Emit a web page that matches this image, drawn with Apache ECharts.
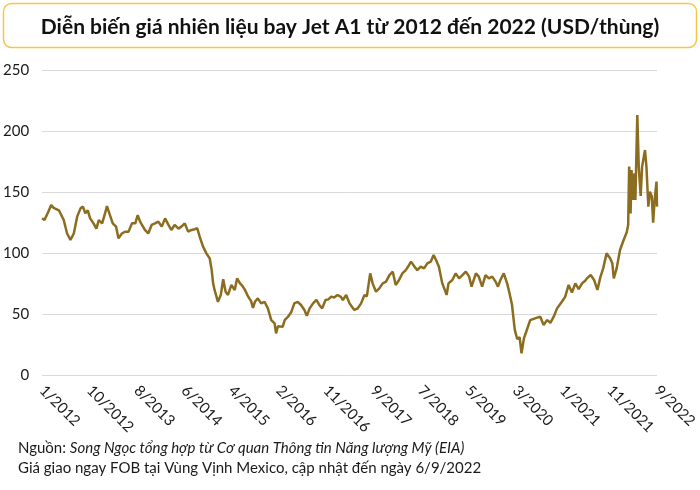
<!DOCTYPE html>
<html>
<head>
<meta charset="utf-8">
<script src="https://cdn.jsdelivr.net/npm/echarts@6/dist/echarts.min.js"></script>
<style>
html,body{margin:0;padding:0;background:#fff;}
#chart{width:700px;height:490px;}
</style>
</head>
<body>
<div id="chart"></div>
<script>
// Months elapsed since 1/2012 (x) and Jet A1 spot price, USD/barrel (y)
var months = [
0,0.5,1.2,1.9,2.4,2.8,3.5,3.9,4.5,5.2,5.9,6.6,7.3,8.0,8.5,9.0,9.5,10.0,10.7,11.3,11.8,
12.5,13.1,13.5,14.0,14.7,15.4,15.9,16.6,17.3,18.0,18.7,19.4,19.9,20.4,21.0,21.4,22.1,22.8,23.5,
24.2,24.9,25.6,26.3,26.9,27.6,28.4,29.0,29.7,30.4,31.1,31.8,32.3,32.8,33.5,34.2,34.9,35.3,35.6,35.9,
36.3,36.6,36.9,37.2,37.7,38.2,38.7,39.1,39.4,39.8,40.1,40.6,41.2,41.7,42.2,42.9,43.5,43.9,44.3,44.9,
45.6,46.3,47.0,47.7,48.1,48.4,48.7,49.1,49.4,50.1,50.5,51.2,51.9,52.5,53.2,53.9,54.6,55.1,55.7,56.4,
57.1,57.7,58.3,59.0,59.6,60.2,60.8,61.5,62.2,62.6,63.3,64.0,64.5,65.0,65.7,66.0,66.4,67.1,67.6,68.0,
68.3,68.8,69.5,70.2,70.9,71.6,72.3,73.0,73.6,74.3,75.0,75.7,76.4,76.8,77.5,78.1,78.8,79.5,80.2,80.9,
81.5,82.0,82.6,83.3,84.0,84.2,84.6,85.4,86.1,86.8,87.5,88.2,88.9,89.4,90.3,90.9,91.6,92.3,93.0,93.7,
94.4,94.9,95.4,96.1,96.8,97.3,97.8,98.4,98.9,99.4,99.8,100.3,100.9,101.6,102.6,103.7,104.4,105.1,105.8,106.5,
107.2,108.2,108.9,109.6,110.3,111.0,111.7,112.4,113.1,113.4,114.2,114.9,115.6,116.2,116.8,117.5,118.2,118.7,119.0,119.6,
120.3,121.0,121.7,122.0,122.2,122.5,122.7,123.0,123.3,123.5,123.9,124.2,124.6,124.9,125.5,125.8,126.2,126.5,126.9,127.2,
127.5,127.9,128.0
];
var prices = [
128.4,127,133,139.3,137,138.5,135,133.8,127,116,110.7,116,129.8,136.6,138,132.5,135,128.4,124.3,120,127,
124.3,132.5,138.5,132.5,124.3,121.6,112,116,117.5,117.5,124.3,124.3,131,125.7,121.6,118.9,116,123,124.3,
125.7,121.6,128.4,123,118.9,123,120,121.6,124.3,117.5,118.9,119.5,120.3,113.4,105.2,99.7,95.5,86,75.1,69.7,
64.2,60,60.5,65.6,78.5,68.3,65.6,67,73.8,72.4,69.7,79.3,75.1,73,70,64.2,60.5,55,60,62.8,
58.7,60,54.6,45,43.7,42.3,34.1,40,40.9,39.6,45,47.8,51.9,58.7,60,57.4,53.3,48.5,54.6,58.7,
61.5,57.4,54.6,61.5,62,64.2,63.5,65.6,64,61.5,65.6,58.7,56,53.3,54.6,53.3,58.7,65.6,64.5,64.2,
83.3,75.1,68.3,71,75.1,76.5,81.9,84.7,73.8,77.9,83.3,86,90.2,92.9,88.8,86,88.8,87.4,91.5,92.9,
98.4,94.3,88.8,75.1,68,65.6,75.1,77.9,83.3,79.2,81.9,84.7,80.6,72.4,83.3,80.6,72.4,81.9,79.2,80.6,
76.5,72.4,77.9,83.3,75.1,67,58,37,29.5,31,17.8,30,36.9,45,46.4,47.8,41,45,42.8,47.8,
54.6,60,64.2,73.8,67.6,75.1,70.3,75.1,77.5,79.2,82,77.9,69.7,80,87.4,99.7,96,91.5,79.2,87.4,
102.5,110,117,123,170.8,132.5,168,143.4,165.3,143.4,213.1,170.8,146.7,170.8,184.4,170.8,138,150.2,146.7,124.9,
143.4,158.5,138
];
var tickLabels = ['1/2012','10/2012','8/2013','6/2014','4/2015','2/2016','11/2016','9/2017','7/2018','5/2019','3/2020','1/2021','11/2021','9/2022'];
var xMax = 128;
var xStep = xMax / (tickLabels.length - 1);

var seriesData = months.map(function (m, i) { return [m, prices[i]]; });

var chart = echarts.init(document.getElementById('chart'), null, {renderer: 'canvas'});
chart.setOption({
  animation: false,
  backgroundColor: '#ffffff',
  title: [{
    text: '{n|Nguồn: }{i|Song Ngọc tổng hợp từ Cơ quan Thông tin Năng lượng Mỹ (EIA)}\n{n|Giá giao ngay FOB tại Vùng Vịnh Mexico, cập nhật đến ngày 6/9/2022}',
    left: 13, top: 433,
    textStyle: {
      fontWeight: 'normal',
      rich: {
        n: {fontFamily: 'Lato', fontSize: 15, fontWeight: 'normal', color: '#1a1a1a', lineHeight: 20},
        i: {fontFamily: 'Lato', fontSize: 15, fontWeight: 'normal', fontStyle: 'italic', color: '#1a1a1a', lineHeight: 20}
      }
    }
  }],
  graphic: [{
    type: 'rect',
    shape: {x: 3.5, y: 3.5, width: 693, height: 44, r: 8},
    style: {fill: '#ffffff', stroke: '#f6c744', lineWidth: 1.5},
    z: -1
  }, {
    type: 'text',
    x: 350, y: 27,
    style: {
      text: 'Diễn biến giá nhiên liệu bay Jet A1 từ 2012 đến 2022 (USD/thùng)',
      font: 'bold 21px Lato',
      fill: '#111111',
      align: 'center',
      verticalAlign: 'middle'
    }
  }],
  grid: {left: 40, right: 43, top: 70, bottom: 115, containLabel: false},
  xAxis: {
    type: 'value',
    min: 0, max: xMax, interval: xStep,
    axisLine: {show: false},
    axisTick: {show: false},
    splitLine: {show: false},
    axisLabel: {
      rotate: -45,
      margin: 13,
      fontFamily: 'Lato', fontSize: 15, color: '#1a1a1a',
      showMinLabel: true, showMaxLabel: true,
      formatter: function (v) { return tickLabels[Math.round(v / xStep)] || ''; }
    }
  },
  yAxis: {
    type: 'value',
    min: 0, max: 250, interval: 50,
    axisLine: {show: false},
    axisTick: {show: false},
    splitLine: {lineStyle: {color: '#d9d9d9', width: 1}},
    axisLabel: {margin: 13, fontFamily: 'Lato', fontSize: 15, color: '#1a1a1a'}
  },
  series: [{
    type: 'line',
    data: seriesData,
    showSymbol: false,
    lineStyle: {color: '#8c6d1f', width: 2.5},
    itemStyle: {color: '#8c6d1f'}
  }]
});
</script>
</body>
</html>
